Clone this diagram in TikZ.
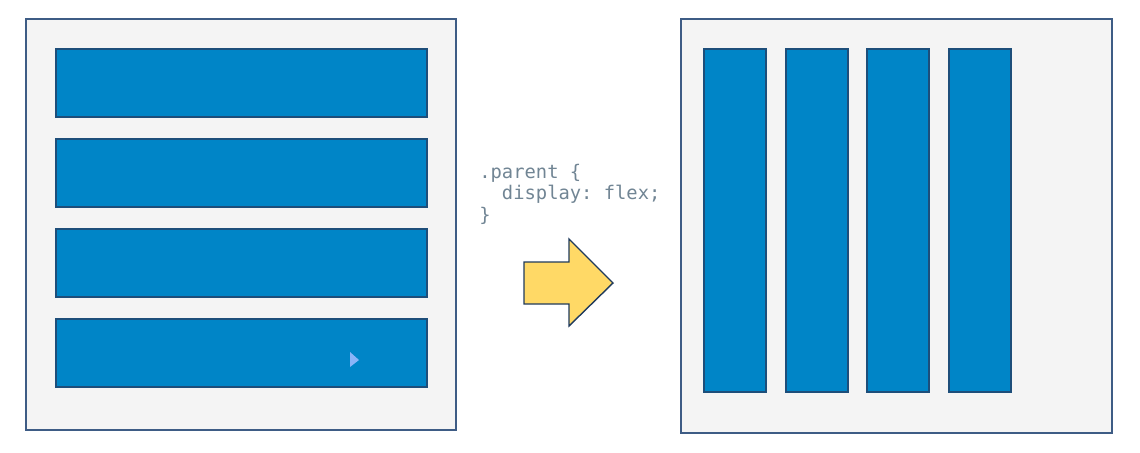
\documentclass[tikz,border=0pt]{standalone}
\usepackage{fontspec}
\setmonofont{DejaVu Sans Mono}
\definecolor{boxfill}{HTML}{F4F4F4}
\definecolor{boxline}{HTML}{3E5C85}
\definecolor{barfill}{HTML}{0085C7}
\definecolor{barline}{HTML}{1D4E7A}
\definecolor{arrowfill}{HTML}{FFD966}
\definecolor{arrowline}{HTML}{1F3A5C}
\definecolor{codegray}{HTML}{718594}
\definecolor{cursorblue}{HTML}{8AB4F8}
\tikzset{
  parentbox/.style={draw=boxline, fill=boxfill, line width=0.8pt, inner sep=0pt},
  childbar/.style={draw=barline, fill=barfill, line width=0.8pt, inner sep=0pt},
  code/.style={anchor=base west, inner sep=0pt, text=codegray, font=\ttfamily\fontsize{10.7}{12}\selectfont}
}
\begin{document}
\begin{tikzpicture}[x=0.02cm, y=-0.02cm]
\useasboundingbox (0,0) rectangle (1140,453);
% before: block children
\node[parentbox, minimum width=8.6cm, minimum height=8.22cm] (before) at (241,224.5){};
\foreach \i/\y in {1/83,2/173,3/263,4/353}
\node[childbar, minimum width=7.42cm, minimum height=1.36cm] (row\i) at (241.5,\y){};
\fill[cursorblue] (350,352) -- (359,360) -- (350,367) -- cycle;
% after: flex children
\node[parentbox, minimum width=8.62cm, minimum height=8.28cm] (after) at (896.5,226){};
\foreach \i/\x in {1/735,2/817,3/898,4/980}
\node[childbar, minimum width=1.24cm, minimum height=6.86cm] (col\i) at (\x,220.5){};
% css
\node[code] (code1) at (479,178) {.parent \{};
\node[code] (code2) at (479,199.5) {\ \ display: flex;};
\node[code] (code3) at (479,221) {\}};
\draw[fill=arrowfill, draw=arrowline, line width=0.8pt] (524,262) -- (569,262) -- (569,239)
  -- (613,283) -- (569,326) -- (569,304) -- (524,304) -- cycle;
\end{tikzpicture}
\end{document}
